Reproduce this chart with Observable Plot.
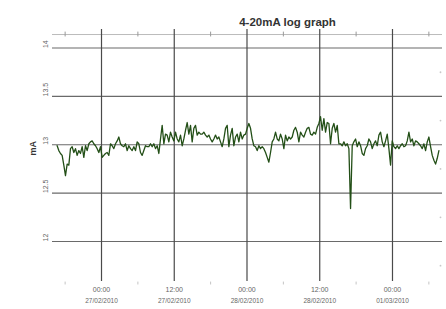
<!DOCTYPE html>
<html><head><meta charset="utf-8">
<script src="https://cdn.jsdelivr.net/npm/d3@7"></script>
<script src="https://cdn.jsdelivr.net/npm/@observablehq/plot@0.6"></script>
<style>body{margin:0;background:#fff}</style>
</head><body><div id="chart"></div>
<script>
const title = "4-20mA log graph";
const yLabel = "mA";
const startTime = "2010-02-26T16:41:00";
const sampleMinutes = 16.5;
const values = [
12.99,12.94,12.91,12.89,12.79,12.68,12.80,12.79,12.96,12.98,
12.92,12.96,12.89,12.94,12.91,12.98,12.87,12.99,12.94,13.01,
13.03,13.04,13.01,12.99,12.96,12.92,12.98,12.87,12.89,12.91,
12.92,12.89,13.01,12.99,12.96,13.01,13.04,13.08,13.01,12.99,
12.98,13.01,12.94,12.99,12.96,12.94,12.98,12.94,13.03,13.01,
12.92,12.89,12.94,12.99,12.98,12.98,13.01,12.98,13.01,12.96,
12.99,12.91,13.06,13.20,13.01,13.11,13.10,13.03,13.13,13.08,
13.04,13.13,13.06,13.03,13.10,12.99,13.06,13.15,13.23,13.11,
13.20,13.03,13.17,13.20,13.10,13.13,13.11,13.11,13.13,13.10,
13.08,13.10,13.06,13.03,13.06,13.10,13.06,13.08,13.03,12.98,
13.06,13.17,13.20,12.98,13.10,13.17,12.99,13.08,13.11,13.03,
13.13,13.06,13.10,13.11,13.17,13.22,13.17,13.06,12.99,12.98,
12.94,12.99,12.96,12.98,12.96,12.92,12.87,12.82,12.92,13.03,
13.06,13.13,13.06,13.04,13.11,13.06,12.96,13.10,13.04,13.08,
13.06,13.08,13.15,13.18,13.13,13.03,13.13,13.10,13.08,13.13,
13.17,13.18,13.11,13.10,13.13,13.11,13.18,13.22,13.29,13.15,
13.27,13.13,13.23,13.22,13.01,13.17,13.22,13.13,13.20,13.01,
13.01,12.99,13.03,12.99,13.01,12.96,12.34,12.99,13.03,13.06,
12.98,13.03,12.99,12.91,12.89,12.96,12.99,13.06,13.03,12.96,
13.01,13.04,12.99,13.10,13.13,13.03,12.98,13.04,13.11,12.96,
12.79,13.04,12.98,12.96,12.99,12.96,12.99,13.01,12.98,12.99,
13.04,13.13,13.03,13.06,12.99,13.04,13.03,13.01,12.99,12.96,
13.01,12.94,13.03,13.08,12.98,12.89,12.84,12.80,12.86,12.94
];
const majorYTicks = [12, 12.5, 13, 13.5, 14];
const yTickLabels = ["12", "12.5", "13", "13.5", "14"];
const minorYTicks = [11.75, 12.25, 12.75, 13.25, 13.75];
const majorXTicks = ["2010-02-27T00:00:00", "2010-02-27T12:00:00", "2010-02-28T00:00:00", "2010-02-28T12:00:00", "2010-03-01T00:00:00"];
const minorXTicks = ["2010-02-26T18:00:00", "2010-02-27T06:00:00", "2010-02-27T18:00:00", "2010-02-28T06:00:00", "2010-02-28T18:00:00", "2010-03-01T06:00:00"];
const xDomain = ["2010-02-26T15:55:00", "2010-03-01T08:15:00"];
const yDomain = [11.586, 14.192];
const topLine = 14.14;

const t0 = new Date(startTime).getTime();
const data = values.map((v, i) => ({t: new Date(t0 + i * sampleMinutes * 60000), v}));
const majX = majorXTicks.map(s => new Date(s));
const minX = minorXTicks.map(s => new Date(s));
const fmtTime = d3.timeFormat("%H:%M");
const fmtDate = d3.timeFormat("%d/%m/%Y");

const chart = Plot.plot({
  width: 446, height: 309,
  marginLeft: 52, marginRight: 4, marginTop: 29, marginBottom: 28,
  style: {fontFamily: "'Liberation Sans', Arial, sans-serif", background: "#fff"},
  x: {type: "time", domain: xDomain.map(s => new Date(s)), axis: null},
  y: {domain: yDomain, axis: null},
  marks: [
    Plot.ruleY([topLine], {stroke: "#bbb", strokeWidth: 1}),
    Plot.ruleY(majorYTicks, {stroke: "#6a6a6a", strokeWidth: 1.1}),
    Plot.ruleX(majX, {stroke: "#4a4a4a", strokeWidth: 1.2}),
    Plot.ruleX(minX, {y1: topLine - 0.025, y2: topLine + 0.025, stroke: "#999"}),
    Plot.ruleX(minX, {y1: 11.55, y2: 11.58, stroke: "#c4c4c4"}),
    Plot.dot(minorYTicks, {y: d => d, frameAnchor: "right", dx: -2, r: 0.9, fill: "#c8c8c8", stroke: null}),
    Plot.lineY(data, {x: "t", y: "v", stroke: "#234f17", strokeWidth: 1.3}),
    Plot.text(majorYTicks, {y: d => d, text: (d, i) => yTickLabels[i], frameAnchor: "left", dx: -7, rotate: -90, fontSize: 7, fill: "#666"}),
    Plot.text([yLabel], {text: d => d, frameAnchor: "left", dx: -19, rotate: -90, fontSize: 9, fontWeight: "bold", fill: "#333"}),
    Plot.text(majX, {x: d => d, text: d => fmtTime(d), frameAnchor: "bottom", dy: 10, fontSize: 7, fill: "#666"}),
    Plot.text(majX, {x: d => d, text: d => fmtDate(d), frameAnchor: "bottom", dy: 21, fontSize: 6.5, fill: "#666"}),
    Plot.text([title], {text: d => d, frameAnchor: "top", dx: 40, dy: -12, fontSize: 11.5, fontWeight: "bold", fill: "#333"})
  ]
});
document.getElementById("chart").appendChild(chart);
</script>
</body></html>
